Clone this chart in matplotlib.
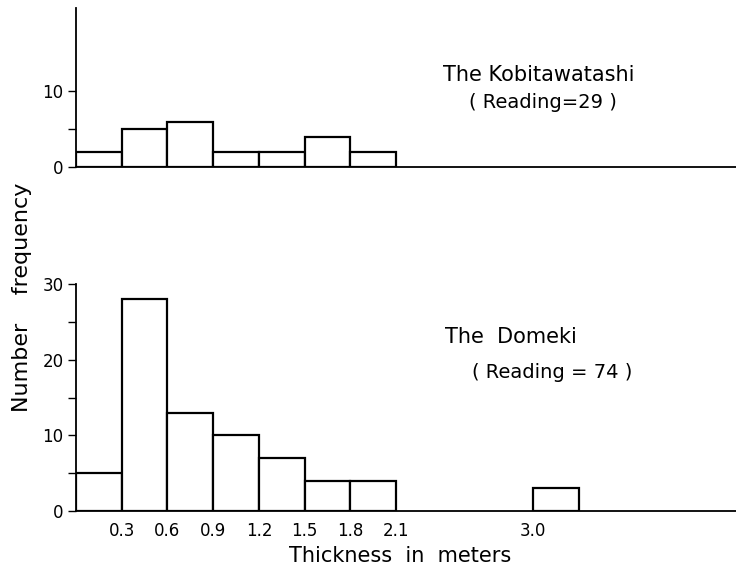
import matplotlib
matplotlib.use("Agg")
import matplotlib.pyplot as plt
import matplotlib.ticker as ticker

# ── Dados ──────────────────────────────────────────────────────────────────────
BIN_W = 0.3
kobi_left = [0.0, 0.3, 0.6, 0.9, 1.2, 1.5, 1.8]
kobi_counts = [2, 5, 6, 2, 2, 4, 2]

domeki_left = [0.0, 0.3, 0.6, 0.9, 1.2, 1.5, 1.8, 3.0]
domeki_counts = [5, 28, 13, 10, 7, 4, 4, 3]

x_ticks = [0.3, 0.6, 0.9, 1.2, 1.5, 1.8, 2.1, 3.0]
x_ticklabels = ["0.3", "0.6", "0.9", "1.2", "1.5", "1.8", "2.1", "3.0"]

W, H = 736, 576
XMAX = 4.33


def px(x0, y0, x1, y1):
    """caixa em pixels (origem no topo) -> fração da figura"""
    return [x0 / W, 1 - y1 / H, (x1 - x0) / W, (y1 - y0) / H]


def estilo(ax, ymax, majors, minors):
    for s in ("top", "right"):
        ax.spines[s].set_visible(False)
    ax.spines["left"].set_linewidth(1.3)
    ax.spines["bottom"].set_linewidth(1.3)
    ax.set_xlim(0, XMAX)
    ax.set_ylim(0, ymax)
    ax.yaxis.set_major_locator(ticker.FixedLocator(majors))
    ax.yaxis.set_minor_locator(ticker.FixedLocator(minors))
    ax.tick_params(axis="y", which="both", direction="out", length=6,
                   width=1.0, labelsize=12, pad=3)
    ax.tick_params(axis="x", which="both", length=0)


fig = plt.figure(figsize=(W / 100, H / 100), dpi=100)

# painel superior
ax1 = fig.add_axes(px(76, 8, 736, 167))
ax1.bar(kobi_left, kobi_counts, width=BIN_W, align="edge",
        facecolor="white", edgecolor="black", linewidth=1.6)
estilo(ax1, 21, [0, 10], [5])
ax1.set_xticks([])

# painel inferior
ax2 = fig.add_axes(px(76, 284, 736, 511))
ax2.bar(domeki_left, domeki_counts, width=BIN_W, align="edge",
        facecolor="white", edgecolor="black", linewidth=1.6)
estilo(ax2, 30, [0, 10, 20, 30], [5, 15, 25])
ax2.set_xticks(x_ticks)
ax2.set_xticklabels(x_ticklabels, fontsize=12)
ax2.tick_params(axis="x", pad=8)


# textos (coordenadas em pixels da figura)
def ftext(x, y, s, **kw):
    fig.text(x / W, 1 - y / H, s, ha="center", va="center", **kw)


ftext(539, 75, "The Kobitawatashi", fontsize=15)
ftext(543, 103, "( Reading=29 )", fontsize=14)
ftext(511, 337, "The  Domeki", fontsize=15)
ftext(552, 372, "( Reading = 74 )", fontsize=14)
ftext(400, 556, "Thickness  in  meters", fontsize=15)
ftext(22, 297, "Number    frequency", fontsize=16, rotation=90)

fig.savefig("out.png", dpi=100)
